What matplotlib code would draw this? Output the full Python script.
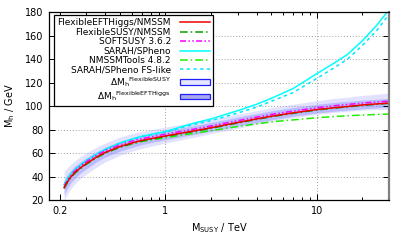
import numpy as np
import matplotlib
matplotlib.use("Agg")
import matplotlib.pyplot as plt
from matplotlib.patches import Patch
from matplotlib.ticker import FixedLocator, NullFormatter, FixedFormatter

plt.rcParams['font.family'] = ['DejaVu Sans']
plt.rcParams['mathtext.fontset'] = 'dejavusans'

# M_SUSY in TeV
msusy = [0.214, 0.217, 0.225, 0.235, 0.25, 0.275, 0.3, 0.35, 0.4, 0.5, 0.6, 0.7, 0.85,
         1, 1.5, 2, 3, 4, 5, 7, 10, 13, 16, 20, 25, 30]

# M_h in GeV
feft = [30.5, 32, 35.5, 39, 43, 47.5, 51, 56.5, 60.5, 65.5, 68.5, 70.8, 72.8,
        74.5, 78.5, 81.5, 86, 89, 91.3, 94.2, 97, 98.5, 99.6, 100.9, 101.8, 102.5]
fsusy = [30, 31.5, 35, 38.5, 42.5, 47, 50.5, 56, 60, 65, 68, 70.3, 72.3,
         74, 78, 81, 85.5, 88.6, 90.9, 93.8, 96.6, 98.2, 99.3, 100.5, 101.5, 102.3]
softsusy = [31.5, 33, 36.8, 40.3, 44.3, 49, 52.5, 58, 62, 67, 70, 72.3, 74.3,
            76, 80, 83, 87.5, 90.5, 92.8, 95.7, 98.5, 100.2, 101.3, 102.5, 103.4, 104.2]
spheno = [33, 34.5, 38, 41.5, 45.5, 50, 53.5, 59, 63, 68.5, 71.8, 74.3, 76.5,
          78.3, 85, 89, 96, 101.5, 106.5, 115, 127.5, 136.5, 144, 155.5, 169, 182]
nmssmtools = [30, 31.5, 35, 38.5, 42.5, 47, 50.5, 56, 60, 64.8, 67.7, 69.8, 71.6,
              73, 76.5, 79, 82.5, 84.8, 86.5, 88.2, 90, 91, 91.7, 92.3, 92.8, 93.2]
spheno_fs = [33, 34.5, 38, 41.5, 45.5, 50, 53.5, 59, 63, 68.3, 71.5, 74, 76,
             77.8, 84, 87.5, 94, 99, 104, 111.5, 123.5, 132.5, 140, 151.5, 164.5, 178]

# uncertainty bands
fs_lo = [20, 21, 25, 29, 33.5, 38.5, 42, 48, 52.5, 58, 61.5, 64, 66.5,
         68.5, 73, 76.5, 81, 84.5, 87, 90, 93, 94.5, 95.5, 96.5, 97, 97]
fs_hi = [44, 45, 47.5, 50, 53, 57, 60, 65, 68.5, 73.5, 76.5, 78.5, 80.5,
         82, 86, 89, 93, 96, 98.5, 101.5, 104.5, 106.5, 107.5, 109, 110, 111]
eft_lo = [24, 26, 30, 34, 38, 43, 46.5, 52.5, 56.5, 61.5, 64.8, 67.2, 69.5,
          71.2, 75.5, 78.5, 83, 86, 88.3, 91.3, 94, 95.5, 96.5, 97.5, 98.4, 99]
eft_hi = [37, 38.5, 41.5, 44.5, 48.5, 52.5, 56, 61, 65, 70, 73, 75.3, 77.3,
          79, 83, 86, 90.5, 93.5, 95.8, 98.8, 101.5, 103, 104, 105, 105.8, 106.5]

fig = plt.figure(figsize=(4.07, 2.44), dpi=100)
ax = fig.add_axes([0.1204, 0.1803, 0.8354, 0.7705])

ax.fill_between(msusy, fs_lo, fs_hi, color=(0.55, 0.55, 1.0), alpha=0.25, lw=0)
ax.fill_between(msusy, eft_lo, eft_hi, color=(0.45, 0.45, 1.0), alpha=0.35, lw=0)

lw = 1.1
ax.plot(msusy, spheno, color='#00ffff', lw=lw)
ax.plot(msusy, spheno_fs, color='#00e8ff', lw=lw, ls=(0, (2.2, 2.2)))
ax.plot(msusy, nmssmtools, color='#22ee00', lw=lw, ls=(0, (5, 2, 1, 2)))
ax.plot(msusy, softsusy, color='#ff00ff', lw=lw, ls=(0, (4, 1.5, 1, 1.5, 1, 1.5)))
ax.plot(msusy, fsusy, color='#00a000', lw=lw, ls=(0, (5, 2, 1, 2)))
ax.plot(msusy, feft, color='#ee0000', lw=lw)

ax.set_xscale('log')
ax.set_xlim(0.17, 30)
ax.set_ylim(20, 180)

ax.xaxis.set_major_locator(FixedLocator([0.2, 1, 10]))
ax.xaxis.set_major_formatter(FixedFormatter(['0.2', '1', '10']))
ax.xaxis.set_minor_locator(FixedLocator([0.3, 0.4, 0.5, 0.6, 0.7, 0.8, 0.9,
                                         2, 3, 4, 5, 6, 7, 8, 9, 20, 30]))
ax.xaxis.set_minor_formatter(NullFormatter())
ax.set_yticks(np.arange(20, 181, 20))

ax.tick_params(which='both', direction='in', top=True, right=True, labelsize=7, pad=4)
ax.tick_params(which='major', length=4, width=0.7)
ax.tick_params(which='minor', length=2.5, width=0.7)

for y in range(40, 180, 20):
    ax.axhline(y, color='#a0a0a0', lw=0.7, ls=(0, (1, 2)), zorder=0)
for x in [1, 10]:
    ax.axvline(x, color='#a0a0a0', lw=0.7, ls=(0, (1, 2)), zorder=0)

for s in ['left', 'bottom', 'top']:
    ax.spines[s].set_linewidth(0.9)
ax.spines['right'].set_color('#808080')
ax.spines['right'].set_linewidth(1.6)

ax.set_xlabel(r'M$_{\mathrm{SUSY}}$ / TeV', fontsize=7, labelpad=4)
ax.set_ylabel(r'M$_{\mathrm{h}}$ / GeV', fontsize=7, labelpad=6)

handles = [
    plt.Line2D([], [], color='#ee0000', lw=lw),
    plt.Line2D([], [], color='#00a000', lw=lw, ls=(0, (5, 2, 1, 2))),
    plt.Line2D([], [], color='#ff00ff', lw=lw, ls=(0, (4, 1.5, 1, 1.5, 1, 1.5))),
    plt.Line2D([], [], color='#00ffff', lw=lw),
    plt.Line2D([], [], color='#22ee00', lw=lw, ls=(0, (5, 2, 1, 2))),
    plt.Line2D([], [], color='#00e8ff', lw=lw, ls=(0, (2.2, 2.2))),
    Patch(facecolor='#e6e6ff', edgecolor='#2020ff', lw=0.9),
    Patch(facecolor='#a8a8f0', edgecolor='#2020ff', lw=0.9),
]
labels = ['FlexibleEFTHiggs/NMSSM', 'FlexibleSUSY/NMSSM', 'SOFTSUSY 3.6.2',
          'SARAH/SPheno', 'NMSSMTools 4.8.2', 'SARAH/SPheno FS-like',
          r'$\Delta \mathrm{M_h}^{\mathrm{FlexibleSUSY}}$',
          r'$\Delta \mathrm{M_h}^{\mathrm{FlexibleEFTHiggs}}$']
leg = ax.legend(handles, labels, loc='upper left', bbox_to_anchor=(0.015, 0.984),
                fontsize=6.5, markerfirst=False, frameon=True, fancybox=False,
                borderaxespad=0, handlelength=3.3, handleheight=0.6,
                labelspacing=0.05, borderpad=0.35, handletextpad=1.0)
leg.get_frame().set_edgecolor('black')
leg.get_frame().set_linewidth(0.9)
leg.get_frame().set_alpha(1)

fig.savefig('out.png', dpi=100)
